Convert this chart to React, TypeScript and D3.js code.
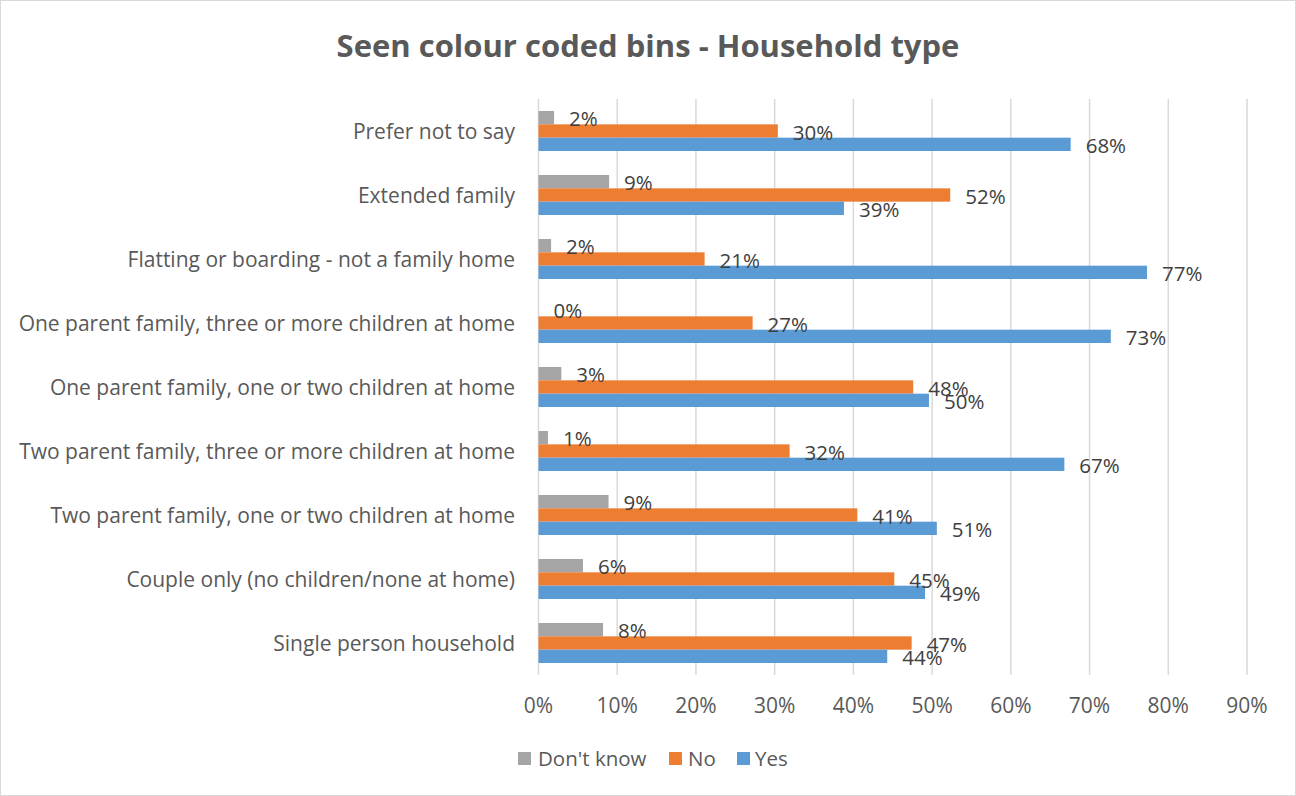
import React from "react";
import * as d3 from "d3";

const categories = [
  "Prefer not to say",
  "Extended family",
  "Flatting or boarding - not a family home",
  "One parent family, three or more children at home",
  "One parent family, one or two children at home",
  "Two parent family, three or more children at home",
  "Two parent family, one or two children at home",
  "Couple only (no children/none at home)",
  "Single person household",
];
const dontKnow = [0.0198, 0.0897, 0.016, 0.0, 0.029, 0.012, 0.089, 0.0565, 0.082];
const no = [0.304, 0.523, 0.211, 0.272, 0.476, 0.319, 0.405, 0.452, 0.474];
const yes = [0.676, 0.388, 0.773, 0.727, 0.496, 0.668, 0.506, 0.491, 0.443];
const seriesNames = ["Don't know", "No", "Yes"];
const seriesColors = ["#A5A5A5", "#ED7D31", "#5B9BD5"];
const xTicks = [0, 0.1, 0.2, 0.3, 0.4, 0.5, 0.6, 0.7, 0.8, 0.9];
const title = "Seen colour coded bins - Household type";

const W = 1296;
const H = 796;
const FONT = "'Open Sans', sans-serif";

export default function App() {
  const series = [dontKnow, no, yes];
  const x = d3.scaleLinear().domain([0, 0.9]).range([538.5, 1247]);
  const y = d3
    .scaleBand<string>()
    .domain(categories)
    .range([99, 675])
    .paddingInner(0.375)
    .paddingOuter(0.1875);
  const inner = d3
    .scaleBand<string>()
    .domain(seriesNames)
    .range([0, y.bandwidth()]);
  const fmt = (v: number) => Math.round(v * 100) + "%";

  const legendItems = [
    { name: seriesNames[0], sx: 518, tx: 538 },
    { name: seriesNames[1], sx: 669, tx: 688 },
    { name: seriesNames[2], sx: 737, tx: 755 },
  ];

  return (
    <svg
      width={W}
      height={H}
      style={{ position: "absolute", left: 0, top: 0, background: "#fff" }}
      fontFamily={FONT}
    >
      <rect x={0.5} y={0.5} width={W - 1} height={H - 1} fill="#fff" stroke="#D9D9D9" />
      <text
        x={W / 2}
        y={57}
        textAnchor="middle"
        fontSize={31}
        fontWeight="bold"
        fill="#595959"
      >
        {title}
      </text>
      {/* gridlines */}
      {xTicks.map((t) => (
        <line
          key={"g" + t}
          x1={x(t)}
          x2={x(t)}
          y1={99}
          y2={675}
          stroke="#D9D9D9"
          strokeWidth={1.5}
        />
      ))}
      {/* tick labels */}
      {xTicks.map((t) => (
        <text
          key={"t" + t}
          x={x(t)}
          y={712.5}
          textAnchor="middle"
          fontSize={21}
          fill="#595959"
        >
          {fmt(t)}
        </text>
      ))}
      {/* category labels */}
      {categories.map((c) => (
        <text
          key={"c" + c}
          x={515}
          y={(y(c) as number) + y.bandwidth() / 2 + 8}
          textAnchor="end"
          fontSize={21}
          fill="#595959"
        >
          {c}
        </text>
      ))}
      {/* bars */}
      {categories.map((c, i) =>
        series.map((s, j) => {
          const y0 = (y(c) as number) + (inner(seriesNames[j]) as number);
          return (
            <rect
              key={"b" + i + "-" + j}
              x={x(0)}
              y={y0}
              width={x(s[i]) - x(0)}
              height={inner.bandwidth()}
              fill={seriesColors[j]}
            />
          );
        })
      )}
      {/* data labels */}
      {categories.map((c, i) =>
        series.map((s, j) => {
          const yc =
            (y(c) as number) + (inner(seriesNames[j]) as number) + inner.bandwidth() / 2;
          return (
            <text
              key={"l" + i + "-" + j}
              x={x(s[i]) + 15}
              y={yc + 8.5}
              fontSize={20.5}
              fill="#404040"
            >
              {fmt(s[i])}
            </text>
          );
        })
      )}
      {/* legend */}
      {legendItems.map((it, k) => (
        <g key={"lg" + k}>
          <rect x={it.sx} y={752} width={13} height={13} fill={seriesColors[k]} />
          <text x={it.tx} y={766} fontSize={20.5} fill="#595959">
            {it.name}
          </text>
        </g>
      ))}
    </svg>
  );
}
